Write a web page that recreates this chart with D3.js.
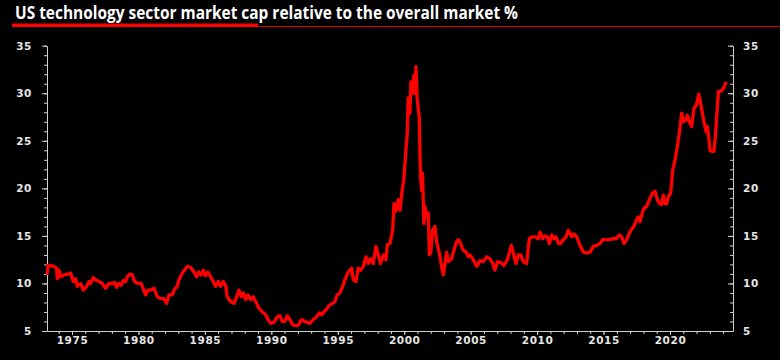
<!DOCTYPE html>
<html>
<head>
<meta charset="utf-8">
<script src="https://cdn.jsdelivr.net/npm/d3@7"></script>
<style>
  html, body { margin: 0; padding: 0; background: #000; }
  svg { display: block; }
  .axis text { font-family: "DejaVu Sans", sans-serif; font-weight: bold; font-size: 10.5px; fill: #e6e6e6; letter-spacing: 0.6px; }
  .axis path, .axis line { stroke: #d0d0d0; }
</style>
</head>
<body>
<svg id="chart" width="780" height="360"></svg>
<script>
// tech sector share of total US market cap (decimal years)
var dates = [
  1973.12, 1973.2, 1973.64, 1973.84, 1973.89, 1974.02, 1974.14, 1974.4, 1974.77, 1974.9,
  1975.1, 1975.27, 1975.4, 1975.65, 1975.85, 1976.1, 1976.28, 1976.4, 1976.6, 1976.78,
  1977.03, 1977.28, 1977.53, 1977.78, 1978.03, 1978.2, 1978.36, 1978.5, 1978.7, 1978.86,
  1979.03, 1979.16, 1979.36, 1979.54, 1979.71, 1979.96, 1980.2, 1980.4, 1980.54, 1980.7,
  1980.9, 1981.17, 1981.42, 1981.67, 1981.92, 1982.12, 1982.3, 1982.55, 1982.72, 1982.92,
  1983.05, 1983.3, 1983.47, 1983.67, 1983.92, 1984.18, 1984.38, 1984.55, 1984.72, 1984.88,
  1985.05, 1985.23, 1985.43, 1985.63, 1985.81, 1986.0, 1986.18, 1986.38, 1986.56, 1986.68,
  1986.93, 1987.19, 1987.39, 1987.56, 1987.74, 1987.9, 1988.06, 1988.25, 1988.44, 1988.64,
  1988.82, 1989.07, 1989.32, 1989.57, 1989.75, 1989.95, 1990.2, 1990.45, 1990.65, 1990.82,
  1991.0, 1991.2, 1991.4, 1991.58, 1991.7, 1992.03, 1992.28, 1992.53, 1992.9, 1993.16,
  1993.41, 1993.61, 1993.78, 1993.96, 1994.16, 1994.36, 1994.61, 1994.79, 1994.96, 1995.16,
  1995.37, 1995.54, 1995.74, 1995.92, 1996.04, 1996.17, 1996.37, 1996.54, 1996.72, 1996.92,
  1997.12, 1997.3, 1997.47, 1997.67, 1997.87, 1998.05, 1998.22, 1998.43, 1998.63, 1998.73,
  1998.93, 1999.13, 1999.23, 1999.38, 1999.55, 1999.68, 1999.8, 1999.98, 2000.13, 2000.23,
  2000.3, 2000.43, 2000.5, 2000.63, 2000.73, 2000.81, 2000.88, 2000.98, 2001.13, 2001.18,
  2001.23, 2001.31, 2001.38, 2001.43, 2001.48, 2001.56, 2001.69, 2001.81, 2001.89, 2001.99,
  2002.14, 2002.31, 2002.44, 2002.64, 2002.81, 2002.94, 2003.07, 2003.19, 2003.32, 2003.57,
  2003.74, 2003.94, 2004.07, 2004.24, 2004.44, 2004.65, 2004.82, 2004.95, 2005.2, 2005.45,
  2005.7, 2005.95, 2006.2, 2006.45, 2006.66, 2006.83, 2007.01, 2007.26, 2007.51, 2007.76,
  2007.91, 2008.06, 2008.21, 2008.41, 2008.59, 2008.77, 2008.96, 2009.21, 2009.41, 2009.59,
  2009.84, 2010.09, 2010.22, 2010.42, 2010.6, 2010.77, 2010.92, 2011.1, 2011.27, 2011.42,
  2011.6, 2011.77, 2011.97, 2012.17, 2012.35, 2012.47, 2012.6, 2012.78, 2012.98, 2013.23,
  2013.48, 2013.73, 2013.98, 2014.23, 2014.48, 2014.73, 2014.93, 2015.18, 2015.43, 2015.68,
  2015.94, 2016.19, 2016.36, 2016.54, 2016.74, 2016.94, 2017.11, 2017.29, 2017.49, 2017.62,
  2017.74, 2017.87, 2018.04, 2018.24, 2018.39, 2018.54, 2018.69, 2018.87, 2019.05, 2019.2,
  2019.37, 2019.5, 2019.62, 2019.75, 2019.87, 2020.05, 2020.2, 2020.38, 2020.55, 2020.7,
  2020.88, 2021.0, 2021.2, 2021.3, 2021.45, 2021.63, 2021.8, 2022.0, 2022.16, 2022.26,
  2022.41, 2022.58, 2022.71, 2022.81, 2022.91, 2023.01, 2023.16, 2023.31, 2023.41, 2023.51,
  2023.64, 2023.81, 2023.96, 2024.11, 2024.24
];
var share = [
  10.9, 11.9, 11.8, 11.6, 10.5, 11.4, 10.7, 10.9, 11.0, 11.1,
  10.2, 10.5, 9.7, 10.0, 9.3, 9.7, 10.2, 10.0, 10.6, 10.4,
  10.2, 10.0, 9.5, 10.0, 10.0, 10.1, 9.6, 10.0, 9.8, 10.3,
  10.2, 10.7, 11.0, 10.9, 10.2, 10.0, 10.0, 9.3, 8.8, 9.3,
  9.3, 9.5, 8.6, 8.4, 8.4, 7.9, 8.8, 8.8, 9.4, 9.7,
  10.4, 11.1, 11.4, 11.8, 11.7, 11.2, 10.7, 11.2, 10.9, 11.4,
  10.8, 11.2, 10.7, 10.2, 9.7, 10.2, 9.7, 10.2, 9.8, 8.6,
  8.1, 7.9, 8.6, 9.3, 8.6, 9.0, 8.3, 8.8, 8.3, 8.6,
  8.1, 7.4, 7.0, 6.7, 6.2, 5.8, 5.9, 6.5, 6.6, 6.0,
  6.0, 6.6, 6.2, 5.7, 5.6, 5.6, 6.2, 6.0, 5.8, 6.2,
  6.5, 6.9, 6.7, 7.0, 7.3, 7.7, 7.9, 8.1, 8.8, 9.0,
  9.7, 10.4, 11.1, 11.4, 11.6, 10.4, 10.2, 11.6, 11.4, 11.8,
  12.8, 12.1, 12.6, 12.1, 13.9, 13.0, 12.1, 13.0, 12.5, 14.1,
  14.2, 15.6, 18.4, 17.6, 18.8, 17.7, 19.3, 21.1, 24.0, 25.8,
  29.5, 27.9, 31.2, 30.0, 31.9, 30.0, 32.8, 29.3, 27.5, 24.0,
  21.2, 19.8, 21.6, 18.8, 16.3, 18.1, 17.0, 17.4, 13.0, 13.2,
  15.6, 16.0, 14.4, 13.2, 11.8, 10.9, 12.1, 13.3, 12.3, 12.6,
  13.5, 14.4, 14.6, 14.2, 13.5, 13.3, 12.8, 13.0, 12.5, 11.8,
  12.4, 12.3, 12.8, 12.6, 12.1, 11.4, 12.3, 12.2, 11.9, 12.5,
  13.2, 14.0, 13.2, 12.1, 13.0, 13.0, 12.3, 12.1, 14.7, 14.9,
  14.9, 14.7, 15.4, 14.7, 15.0, 14.9, 14.2, 15.1, 14.7, 14.9,
  14.2, 14.2, 14.6, 14.9, 15.6, 15.3, 14.9, 15.2, 14.9, 14.0,
  13.3, 13.2, 13.3, 13.9, 14.0, 14.2, 14.6, 14.6, 14.6, 14.7,
  14.7, 15.1, 14.9, 14.2, 14.6, 15.3, 15.7, 16.0, 16.7, 17.0,
  16.5, 17.2, 17.9, 18.1, 18.6, 19.1, 19.5, 19.7, 18.8, 18.4,
  18.3, 19.3, 18.4, 18.4, 19.1, 19.5, 21.9, 23.0, 24.4, 25.8,
  27.9, 27.0, 27.2, 27.7, 27.0, 26.5, 28.4, 28.8, 29.9, 29.3,
  28.1, 26.8, 26.0, 26.5, 25.4, 24.0, 23.9, 23.9, 25.4, 27.5,
  30.2, 30.2, 30.4, 30.8, 31.2
];
var xLabels = [1975, 1980, 1985, 1990, 1995, 2000, 2005, 2010, 2015, 2020];
var yLabels = [5, 10, 15, 20, 25, 30, 35];
var title = 'US technology sector market cap relative to the overall market %';

var svg = d3.select('#chart');
var plotLeft = 47, plotRight = 733, plotTop = 45.7, plotBottom = 331;

var x = d3.scaleLinear().domain([1973.12, 2024.74]).range([plotLeft, plotRight]);
var y = d3.scaleLinear().domain([5, 35]).range([plotBottom, plotTop]);

// header
svg.append('text')
    .attr('x', 15)
    .attr('y', 18.5)
    .attr('textLength', 503)
    .attr('lengthAdjust', 'spacingAndGlyphs')
    .style('font-family', '"Open Sans", sans-serif')
    .style('font-weight', 700)
    .style('font-size', '18px')
    .style('fill', '#ffffff')
    .text(title);
svg.append('rect').attr('x', 12).attr('y', 23.5).attr('width', 246).attr('height', 3.5).attr('fill', '#ff0000');
svg.append('line').attr('x1', 258).attr('x2', 780).attr('y1', 26.5).attr('y2', 26.5)
    .attr('stroke', '#e00000').attr('stroke-width', 1);

// minor ticks first, then the labelled axes
svg.append('g').attr('class', 'axis').attr('transform', 'translate(' + plotLeft + ',0)')
    .call(d3.axisLeft(y).tickValues(d3.range(5, 36)).tickSize(3).tickFormat(''))
    .select('.domain').remove();
svg.append('g').attr('class', 'axis').attr('transform', 'translate(' + plotRight + ',0)')
    .call(d3.axisRight(y).tickValues(d3.range(5, 36)).tickSize(-3).tickFormat(''))
    .select('.domain').remove();
svg.append('g').attr('class', 'axis').attr('transform', 'translate(0,' + plotBottom + ')')
    .call(d3.axisBottom(x).tickValues(d3.range(1974, 2025)).tickSize(3).tickFormat(''))
    .select('.domain').remove();

svg.append('g').attr('class', 'axis').attr('transform', 'translate(' + plotLeft + ',0)')
    .call(d3.axisLeft(y).tickValues(yLabels).tickSize(5).tickSizeOuter(0).tickPadding(10));
svg.append('g').attr('class', 'axis').attr('transform', 'translate(' + plotRight + ',0)')
    .call(d3.axisRight(y).tickValues(yLabels).tickSize(-5).tickSizeOuter(0).tickPadding(10));
svg.append('g').attr('class', 'axis').attr('transform', 'translate(0,' + plotBottom + ')')
    .call(d3.axisBottom(x).tickValues(xLabels).tickSize(4).tickSizeOuter(0).tickPadding(2)
        .tickFormat(d3.format('d')));

// the series
var points = dates.map(function (d, i) { return [d, share[i]]; });
var line = d3.line()
    .x(function (d) { return x(d[0]); })
    .y(function (d) { return y(d[1]); });

svg.append('path')
    .datum(points)
    .attr('d', line)
    .attr('fill', 'none')
    .attr('stroke', '#ff0000')
    .attr('stroke-width', 3.3)
    .attr('stroke-linejoin', 'round');
</script>
</body>
</html>
